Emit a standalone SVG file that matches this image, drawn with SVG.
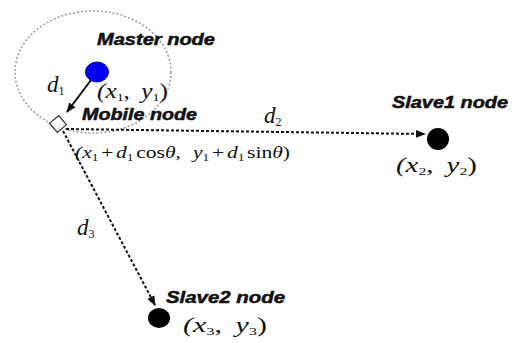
<svg xmlns="http://www.w3.org/2000/svg" width="515" height="343" viewBox="0 0 515 343">
  <style>
    .lbl { font-family: "Liberation Sans", Arial, sans-serif; font-weight: bold; font-style: italic; font-size: 16px; fill: #111; stroke: #111; stroke-width: 0.5; }
    .math { font-family: "Liberation Serif", "Times New Roman", serif; font-style: italic; fill: #111; }
    .up { font-style: normal; }
    .dash { stroke: #111; stroke-width: 2; stroke-dasharray: 3 2; fill: none; }
    .range { stroke: #999; stroke-width: 1.5; stroke-dasharray: 2 2; fill: none; }
  </style>
  <defs>
    <marker id="arr" viewBox="0 0 10 10" refX="9" refY="5" markerWidth="5" markerHeight="5" orient="auto" markerUnits="strokeWidth">
      <path d="M0,1 L10,5 L0,9 Z" fill="#111"/>
    </marker>
  </defs>
  <rect width="515" height="343" fill="#fff"/>

  <ellipse id="range" class="range" cx="93" cy="72" rx="78" ry="61"/>

  <g id="connectors">
    <line x1="91" y1="80" x2="67" y2="112" stroke="#111" stroke-width="2" marker-end="url(#arr)"/>
    <line class="dash" x1="66" y1="129" x2="425" y2="134" marker-end="url(#arr)"/>
    <line class="dash" x1="63" y1="131" x2="155" y2="305" marker-end="url(#arr)"/>
    <text class="math" x="47" y="92" font-size="23">d<tspan class="up" font-size="12" dy="3">1</tspan></text>
    <text class="math" x="264" y="123" font-size="23">d<tspan class="up" font-size="12" dy="3">2</tspan></text>
    <text class="math" x="77" y="235" font-size="23">d<tspan class="up" font-size="12" dy="3">3</tspan></text>
  </g>

  <g id="master">
    <ellipse cx="97" cy="72" rx="11.5" ry="10" fill="#0000ee" stroke="#0000aa" stroke-width="1"/>
    <text class="lbl" x="97" y="45" textLength="118" lengthAdjust="spacingAndGlyphs">Master node</text>
    <text class="math" x="97" y="98" font-size="20" textLength="71" lengthAdjust="spacingAndGlyphs">(x<tspan class="up" font-size="11" dy="3">1</tspan><tspan class="up" dy="-3">,</tspan><tspan dx="9">y</tspan><tspan class="up" font-size="11" dy="3">1</tspan><tspan class="up" dy="-3">)</tspan></text>
  </g>

  <g id="mobile">
    <rect x="-6" y="-6" width="12" height="12" fill="#fff" stroke="#333" stroke-width="1.2" transform="translate(58,124) rotate(-40)"/>
    <text class="lbl" x="82" y="120" textLength="115" lengthAdjust="spacingAndGlyphs">Mobile node</text>
    <text class="math" x="75" y="158" font-size="16" textLength="215" lengthAdjust="spacingAndGlyphs">(x<tspan class="up" font-size="10" dy="3">1</tspan><tspan class="up" dy="-3" dx="2">+</tspan><tspan dx="2">d</tspan><tspan class="up" font-size="10" dy="3">1</tspan><tspan class="up" dy="-3" dx="2">cos</tspan>θ<tspan class="up">,</tspan><tspan dx="9">y</tspan><tspan class="up" font-size="10" dy="3">1</tspan><tspan class="up" dy="-3" dx="2">+</tspan><tspan dx="2">d</tspan><tspan class="up" font-size="10" dy="3">1</tspan><tspan class="up" dy="-3" dx="2">sin</tspan>θ<tspan class="up">)</tspan></text>
  </g>

  <g id="slave1">
    <circle cx="438" cy="139" r="11" fill="#000"/>
    <text class="lbl" x="392" y="108" textLength="116" lengthAdjust="spacingAndGlyphs">Slave1 node</text>
    <text class="math" x="396" y="172" font-size="20" textLength="81" lengthAdjust="spacingAndGlyphs">(x<tspan class="up" font-size="11" dy="3">2</tspan><tspan class="up" dy="-3">,</tspan><tspan dx="9">y</tspan><tspan class="up" font-size="11" dy="3">2</tspan><tspan class="up" dy="-3">)</tspan></text>
  </g>

  <g id="slave2">
    <ellipse cx="159" cy="318" rx="11" ry="10" fill="#000"/>
    <text class="lbl" x="166" y="303" textLength="119" lengthAdjust="spacingAndGlyphs">Slave2 node</text>
    <text class="math" x="183" y="332" font-size="20" textLength="84" lengthAdjust="spacingAndGlyphs">(x<tspan class="up" font-size="11" dy="3">3</tspan><tspan class="up" dy="-3">,</tspan><tspan dx="9">y</tspan><tspan class="up" font-size="11" dy="3">3</tspan><tspan class="up" dy="-3">)</tspan></text>
  </g>
</svg>
